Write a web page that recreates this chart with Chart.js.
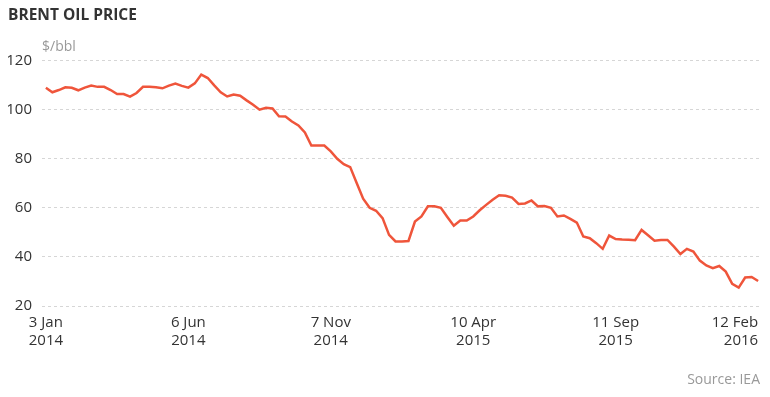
<!DOCTYPE html>
<html>
<head>
<meta charset="utf-8">
<script src="https://cdn.jsdelivr.net/npm/chart.js@4"></script>
<style>
  html, body { margin: 0; padding: 0; background: #ffffff; }
  #wrap { position: relative; width: 770px; height: 397px; }
</style>
</head>
<body>
<div id="wrap"><canvas id="c" width="770" height="397"></canvas></div>
<script>
// Weekly Brent price, 3 Jan 2014 .. 12 Feb 2016 ($/bbl)
const prices = [
  108.9, 107.1, 108.0, 109.1, 108.9, 107.9, 109.0, 109.8, 109.3, 109.3,
  108.0, 106.4, 106.4, 105.3, 106.8, 109.3, 109.3, 109.1, 108.7, 109.8,
  110.6, 109.7, 109.0, 110.7, 114.3, 112.9, 109.9, 107.1, 105.4, 106.2,
  105.7, 103.8, 102.0, 100.0, 100.8, 100.5, 97.3, 97.2, 95.2, 93.6,
  90.7, 85.4, 85.4, 85.4, 83.0, 80.0, 77.8, 76.6, 70.1, 63.7,
  60.0, 58.8, 55.8, 49.0, 46.3, 46.3, 46.5, 54.4, 56.5, 60.6,
  60.6, 60.0, 56.3, 52.7, 54.8, 54.8, 56.5, 59.0, 61.2, 63.3,
  65.1, 64.9, 64.2, 61.6, 61.8, 63.0, 60.6, 60.7, 60.0, 56.5,
  56.9, 55.5, 54.0, 48.3, 47.6, 45.6, 43.3, 48.7, 47.3, 47.1,
  47.0, 46.8, 51.0, 48.8, 46.6, 46.9, 46.9, 44.2, 41.2, 43.3,
  42.2, 38.5, 36.5, 35.4, 36.3, 34.0, 29.0, 27.5, 31.6, 31.8,
  30.2
];
const tickWeeks = [0, 22, 44, 66, 88, 110];
const tickLabels = [
  ['3 Jan', '2014'], ['6 Jun', '2014'], ['7 Nov', '2014'],
  ['10 Apr', '2015'], ['11 Sep', '2015'], ['12 Feb', '2016']
];
const yTicks = [20, 40, 60, 80, 100, 120];
const titleText = 'BRENT OIL PRICE';
const unitText = '$/bbl';
const sourceText = 'Source: IEA';

const FONT = '"Open Sans", "DejaVu Sans", sans-serif';

const points = prices.map((v, i) => ({ x: i, y: v }));

const extras = {
  id: 'extras',
  beforeDraw(chart) {
    const items = chart.scales.x.getLabelItems(chart.chartArea);
    if (items.length) items[items.length - 1].options.textAlign = 'right';
  },
  afterDraw(chart) {
    const ctx = chart.ctx;
    ctx.save();
    ctx.fillStyle = '#999999';
    ctx.font = '14px ' + FONT;
    ctx.textBaseline = 'middle';
    ctx.textAlign = 'left';
    ctx.fillText(unitText, chart.chartArea.left, 47);
    ctx.textAlign = 'right';
    ctx.fillText(sourceText, 760, 380);
    ctx.restore();
  }
};

new Chart(document.getElementById('c'), {
  type: 'line',
  data: {
    datasets: [{
      data: points,
      borderColor: '#ef553b',
      borderWidth: 2.5,
      pointRadius: 0,
      tension: 0,
      fill: false
    }]
  },
  options: {
    responsive: false,
    animation: false,
    layout: { padding: { left: 8, right: 8, top: 0, bottom: 0 } },
    plugins: {
      legend: { display: false },
      tooltip: { enabled: false },
      title: {
        display: true,
        text: titleText,
        align: 'start',
        color: '#333333',
        font: { family: FONT, size: 15.5, weight: 'bold' },
        padding: { top: 6, bottom: 36 }
      }
    },
    scales: {
      x: {
        type: 'linear',
        min: -0.6,
        max: 110.6,
        border: { display: false },
        grid: { display: false, drawTicks: false },
        afterBuildTicks(scale) { scale.ticks = tickWeeks.map(v => ({ value: v })); },
        afterFit(scale) { scale.height = 91; scale.paddingLeft = 0; scale.paddingRight = 0; },
        ticks: {
          autoSkip: false,
          maxRotation: 0,
          padding: 8,
          color: '#333333',
          font: { family: FONT, size: 15, lineHeight: 1.2 },
          callback(v) { const i = tickWeeks.indexOf(v); return i >= 0 ? tickLabels[i] : ''; }
        }
      },
      y: {
        min: 20,
        max: 120,
        border: { display: false, dash: [3, 3] },
        afterBuildTicks(scale) { scale.ticks = yTicks.map(v => ({ value: v })); },
        afterFit(scale) { scale.width = 34; },
        grid: {
          color: '#d6d6d6',
          lineWidth: 1,
          drawTicks: false
        },
        ticks: {
          padding: 10,
          color: '#333333',
          font: { family: FONT, size: 15 }
        }
      }
    }
  },
  plugins: [extras]
});
</script>
</body>
</html>
